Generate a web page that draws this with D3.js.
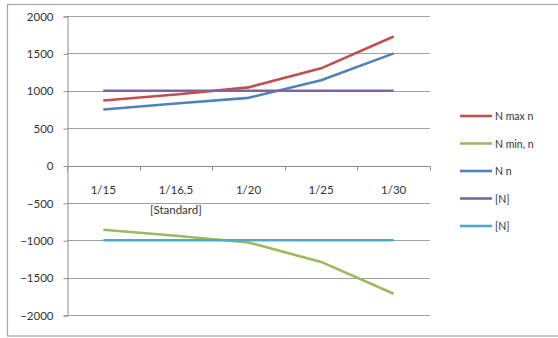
<!DOCTYPE html>
<html>
<head>
<meta charset="utf-8">
<script src="https://cdn.jsdelivr.net/npm/d3@7/dist/d3.min.js"></script>
<style>
  html, body { margin: 0; padding: 0; background: #fff; }
  svg { display: block; font-family: Lato, "Open Sans", sans-serif; }
</style>
</head>
<body>
<svg id="chart" width="558" height="338"></svg>
<script>
// Categories (scale ratios) and series values
const categories = ["1/15", "1/16,5", "1/20", "1/25", "1/30"];
const categorySub = ["", "[Standard]", "", "", ""];
const nMax = [870, 950, 1045, 1300, 1725];
const nMin = [-860, -940, -1030, -1290, -1715];
const nN = [750, 830, 905, 1140, 1500];
const limitUpper = [1000, 1000, 1000, 1000, 1000];
const limitLower = [-1000, -1000, -1000, -1000, -1000];
const seriesNames = ["N max n", "N min, n", "N n", "[N]", "[N]"];
const seriesColors = ["#C0504D", "#9BBB59", "#4F81BD", "#8064A2", "#4BACC6"];
const yTicks = [2000, 1500, 1000, 500, 0, -500, -1000, -1500, -2000];

const series = [nMax, nMin, nN, limitUpper, limitLower];

const svg = d3.select("#chart");

// outer chart frame
svg.append("rect")
  .attr("x", 7.5).attr("y", 4.5)
  .attr("width", 560).attr("height", 331.5)
  .attr("fill", "#fff").attr("stroke", "#a6a6a6").attr("stroke-width", 1.2);

const plot = { left: 67, right: 430, top: 16, bottom: 315 };

const x = d3.scaleBand().domain(categories).range([plot.left, plot.right]).padding(0);
const y = d3.scaleLinear().domain([-2000, 2000]).range([plot.bottom, plot.top]);

// horizontal gridlines
svg.append("g").selectAll("line").data(yTicks).join("line")
  .attr("x1", plot.left).attr("x2", plot.right)
  .attr("y1", d => Math.round(y(d)) + 0.5).attr("y2", d => Math.round(y(d)) + 0.5)
  .attr("stroke", "#a0a0a0").attr("stroke-width", 1);

// y axis
const yAxis = d3.axisLeft(y).tickValues(yTicks).tickFormat(d3.format("d")).tickSize(4).tickPadding(10);
const gy = svg.append("g").attr("transform", `translate(${plot.left + 0.5},0.5)`).call(yAxis);
gy.select(".domain").attr("stroke", "#8c8c8c");
gy.selectAll(".tick line").attr("stroke", "#8c8c8c");
gy.selectAll(".tick text").attr("fill", "#333").attr("font-size", 11.5)
  .attr("font-family", "Lato, sans-serif");

// x axis at zero with category boundary ticks
const gx = svg.append("g").attr("transform", `translate(0,${Math.round(y(0)) + 0.5})`);
gx.append("line").attr("x1", plot.left).attr("x2", plot.right).attr("stroke", "#8c8c8c");
const bounds = categories.map(c => x(c)).concat([plot.right]);
gx.selectAll("line.tk").data(bounds).join("line").attr("class", "tk")
  .attr("x1", d => Math.round(d) + 0.5).attr("x2", d => Math.round(d) + 0.5)
  .attr("y1", 0).attr("y2", 4).attr("stroke", "#8c8c8c");

// category labels
const labels = svg.append("g").attr("font-size", 11.5).attr("fill", "#333").attr("text-anchor", "middle");
categories.forEach((c, i) => {
  const cx = x(c) + x.bandwidth() / 2;
  labels.append("text").attr("x", cx).attr("y", 194).text(c);
  if (categorySub[i]) labels.append("text").attr("x", cx).attr("y", 214).text(categorySub[i]);
});

// series lines
const line = d3.line()
  .x((d, i) => x(categories[i]) + x.bandwidth() / 2)
  .y(d => y(d));

svg.append("g").selectAll("path").data(series).join("path")
  .attr("d", d => line(d))
  .attr("fill", "none")
  .attr("stroke", (d, i) => seriesColors[i])
  .attr("stroke-width", 2.6)
  .attr("stroke-linejoin", "round");

// legend
const legend = svg.append("g");
seriesNames.forEach((name, i) => {
  const ly = 116 + i * 27.5;
  legend.append("line").attr("x1", 460).attr("x2", 492).attr("y1", ly).attr("y2", ly)
    .attr("stroke", seriesColors[i]).attr("stroke-width", 2.6);
  legend.append("text").attr("x", 495).attr("y", ly + 4)
    .attr("font-size", 10.5).attr("fill", "#333").text(name);
});
</script>
</body>
</html>
